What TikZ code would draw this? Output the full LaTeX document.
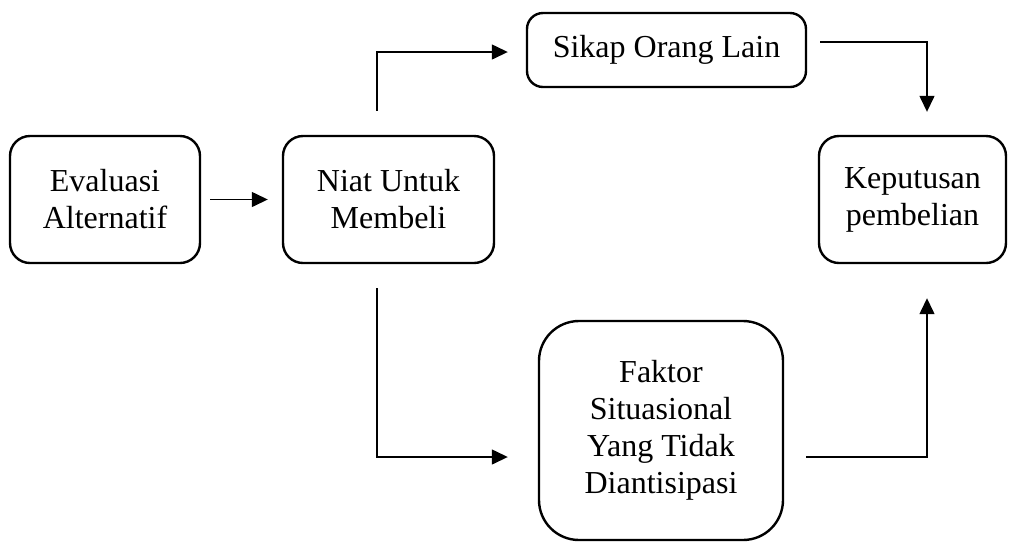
\documentclass[tikz,border=0pt]{standalone}
\usepackage{fontspec}
\setmainfont{Liberation Serif}
\usetikzlibrary{arrows.meta}

\begin{document}
\begin{tikzpicture}[x=0.5pt, y=-0.5pt,
    box/.style={draw, line width=1.2pt, rounded corners=10pt, align=center,
      font=\fontsize{16}{18.5}\selectfont, inner sep=0pt},
    arr/.style={line width=0.7pt, -{Triangle[length=8pt, width=7.5pt]}}]
  \useasboundingbox (0, 0) rectangle (1009, 543);
  \node[box, minimum width=95pt, minimum height=63.5pt] (eval) at (105, 199.5) {Evaluasi\\Alternatif};
  \node[box, minimum width=105.5pt, minimum height=63.5pt] (niat) at (388.5, 199.5) {Niat Untuk\\Membeli};
  \node[box, minimum width=139.5pt, minimum height=37pt, rounded corners=8pt] (sikap) at (666.5, 50) {Sikap Orang Lain};
  \node[box, minimum width=93.5pt, minimum height=63.5pt] (keputusan) at (912.5, 199.5) {Keputusan\\pembelian};
  \node[box, minimum width=122pt, minimum height=109.5pt, rounded corners=20pt] (faktor) at (661, 430.5) {Faktor\\Situasional\\Yang Tidak\\Diantisipasi};

  \draw[arr, shorten <=4.5pt, shorten >=7pt] (eval.east) -- (niat.west);
  \draw[arr, shorten <=12pt, shorten >=9pt] ([xshift=-5.75pt]niat.north) |- ([yshift=-1pt]sikap.west);
  \draw[arr, shorten <=6.5pt, shorten >=11.5pt] ([yshift=4pt]sikap.east) -| ([xshift=7.25pt]keputusan.north);
  \draw[arr, shorten <=12pt, shorten >=15pt] ([xshift=-5.75pt]niat.south) |- ([yshift=-13.25pt]faktor.west);
  \draw[arr, shorten <=11pt, shorten >=17pt] ([yshift=-13.25pt]faktor.east) -| ([xshift=7.25pt]keputusan.south);
\end{tikzpicture}
\end{document}
